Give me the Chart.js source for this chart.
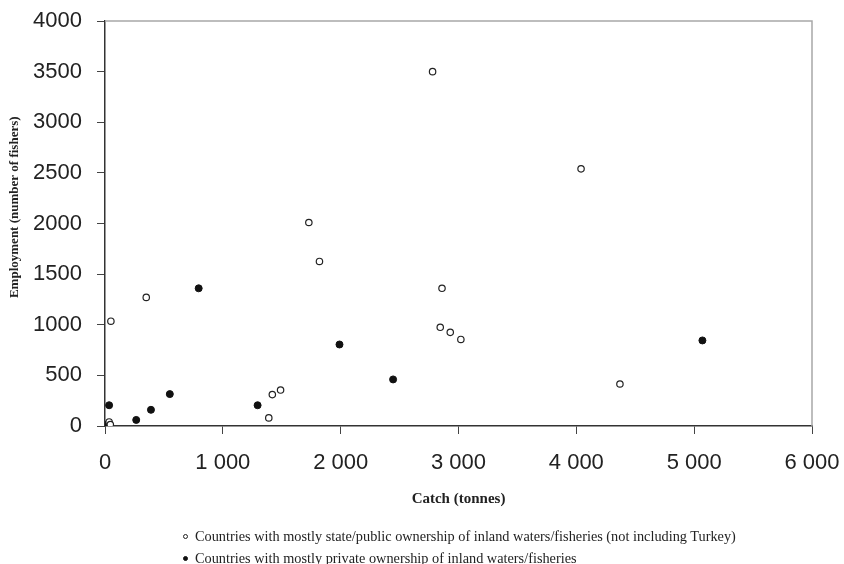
<!DOCTYPE html>
<html>
<head>
<meta charset="utf-8">
<script src="https://cdn.jsdelivr.net/npm/chart.js@4/dist/chart.umd.min.js"></script>
<style>
  html, body { margin: 0; padding: 0; background: #fff; }
  #wrap { position: relative; width: 844px; height: 564px; }
  #legend {
    position: absolute; left: 183px; top: 525px;
    font-family: 'Liberation Serif', 'Times New Roman', serif;
    font-size: 14.3px; color: #222; line-height: 22px;
  }
  #legend .item { white-space: nowrap; }
  #legend .mark {
    display: inline-block; width: 5px; height: 5px; border-radius: 50%;
    margin-right: 7px; vertical-align: 2px; box-sizing: border-box;
  }
</style>
</head>
<body>
<div id="wrap">
  <canvas id="scatterChart" width="844" height="564"></canvas>
  <div id="legend"></div>
</div>
<script>
// ---- DATA (catch in tonnes, employment in number of fishers) ----
const stateLabel = 'Countries with mostly state/public ownership of inland waters/fisheries (not including Turkey)';
const stateCatch = [2780, 4040, 1730, 1820, 2860, 2845, 2930, 3020, 4370, 1490, 1420, 1390, 50, 350, 35, 45];
const stateEmployment = [3500, 2540, 2010, 1625, 1360, 975, 925, 855, 415, 355, 310, 80, 1035, 1270, 40, 15];

const privateLabel = 'Countries with mostly private ownership of inland waters/fisheries';
const privateCatch = [1990, 2445, 5070, 1295, 795, 35, 265, 390, 550, 5];
const privateEmployment = [805, 460, 845, 205, 1360, 205, 60, 160, 315, 10];

const xTicks = [0, 1000, 2000, 3000, 4000, 5000, 6000];
const yTicks = [0, 500, 1000, 1500, 2000, 2500, 3000, 3500, 4000];

const toPoints = (xs, ys) => xs.map((x, i) => ({ x: x, y: ys[i] }));

// gray frame on the top and right sides of the plot area
const framePlugin = {
    id: 'frame',
    afterDraw(chart) {
        const { ctx, chartArea: a } = chart;
        ctx.save();
        ctx.strokeStyle = '#a8a8a8';
        ctx.lineWidth = 1.5;
        ctx.beginPath();
        ctx.moveTo(a.left, a.top);
        ctx.lineTo(a.right, a.top);
        ctx.lineTo(a.right, a.bottom);
        ctx.stroke();
        ctx.restore();
    }
};

const sansFont = "'Liberation Sans', Arial, sans-serif";
const serifFont = "'Liberation Serif', 'Times New Roman', serif";

const chart = new Chart(document.getElementById('scatterChart'), {
    type: 'scatter',
    data: {
        datasets: [{
            label: stateLabel,
            data: toPoints(stateCatch, stateEmployment),
            pointRadius: 3.2,
            pointBackgroundColor: '#fff',
            pointBorderColor: '#222',
            pointBorderWidth: 1.2
        }, {
            label: privateLabel,
            data: toPoints(privateCatch, privateEmployment),
            pointRadius: 3.5,
            pointBackgroundColor: '#111',
            pointBorderColor: '#111',
            pointBorderWidth: 1
        }]
    },
    options: {
        responsive: false,
        animation: false,
        layout: { padding: { top: 21, right: 32, bottom: 56, left: 0 } },
        plugins: {
            legend: { display: false },
            tooltip: { enabled: false }
        },
        scales: {
            x: {
                type: 'linear',
                min: 0,
                max: 6000,
                afterBuildTicks: s => { s.ticks = xTicks.map(v => ({ value: v })); },
                afterFit: s => {
                    s.height = 82;
                    s.paddingLeft = 0;
                    s.paddingRight = 0;
                },
                grid: { drawOnChartArea: false, tickLength: 8, color: '#444' },
                border: { color: '#333', width: 1.5 },
                ticks: {
                    padding: 16,
                    color: '#222',
                    font: { family: sansFont, size: 22 },
                    maxRotation: 0,
                    callback: v => String(v).replace(/\B(?=(\d{3})+(?!\d))/g, ' ')
                },
                title: {
                    display: true,
                    text: 'Catch (tonnes)',
                    color: '#222',
                    padding: { top: 0, bottom: 0 },
                    font: { family: serifFont, size: 15, weight: 'bold' }
                }
            },
            y: {
                min: 0,
                max: 4000,
                afterBuildTicks: s => { s.ticks = yTicks.map(v => ({ value: v })); },
                afterFit: s => {
                    s.width = 105;
                    s.paddingTop = 0;
                    s.paddingBottom = 0;
                },
                grid: { drawOnChartArea: false, tickLength: 8, color: '#444' },
                border: { color: '#333', width: 1.5 },
                ticks: {
                    padding: 15,
                    color: '#222',
                    font: { family: sansFont, size: 22 },
                    callback: v => String(v)
                },
                title: {
                    display: true,
                    text: '          Employment (number of fishers)',
                    color: '#222',
                    padding: { top: 7, bottom: 0 },
                    font: { family: serifFont, size: 13, weight: 'bold' }
                }
            }
        }
    },
    plugins: [framePlugin]
});

// ---- HTML legend built from the datasets ----
const legendEl = document.getElementById('legend');
chart.data.datasets.forEach(ds => {
    const item = document.createElement('div');
    item.className = 'item';
    const mark = document.createElement('span');
    mark.className = 'mark';
    mark.style.background = ds.pointBackgroundColor;
    mark.style.border = '1px solid ' + ds.pointBorderColor;
    item.appendChild(mark);
    item.appendChild(document.createTextNode(ds.label));
    legendEl.appendChild(item);
});
</script>
</body>
</html>
